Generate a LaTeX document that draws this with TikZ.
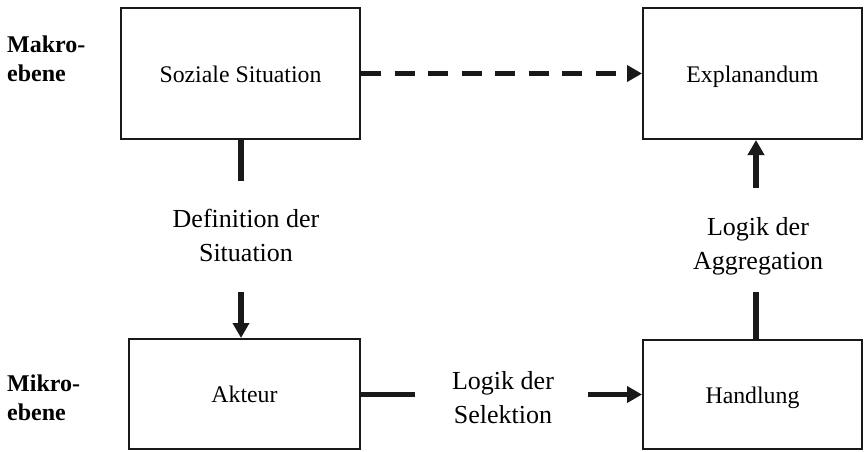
\documentclass[tikz,border=0pt]{standalone}
\usepackage{fontspec}
\setmainfont{Liberation Serif}
\usetikzlibrary{arrows.meta}
\begin{document}
\begin{tikzpicture}[x=1pt,y=-1pt,
  box/.style={draw=black!90,line width=2pt,rectangle,inner sep=0pt,
    text height=17pt,text depth=0pt,
    font=\fontsize{23.8}{30}\selectfont},
  lbl/.style={align=center,inner sep=0pt,anchor=north,
    font=\fontsize{26}{34}\selectfont},
  lvl/.style={align=left,inner sep=0pt,anchor=north west,
    font=\fontsize{24}{29}\selectfont\bfseries},
  conn/.style={line width=5.5pt,draw=black!90},
  tip/.style={-{Triangle[length=15pt,width=16pt]}},
  dsh/.style={conn,dash pattern=on 20pt off 13.5pt}]
\useasboundingbox (0,0) rectangle (864,451);
% boxes
\node[box,minimum width=239pt,minimum height=131pt] (soz) at (240.5,73.5) {Soziale Situation};
\node[box,minimum width=219pt,minimum height=131pt] (expl) at (752.5,73.5) {Explanandum};
\node[box,minimum width=231pt,minimum height=110pt] (akt) at (244.5,394) {Akteur};
\node[box,minimum width=219pt,minimum height=109pt] (hand) at (752.5,394.5) {Handlung};
% level labels
\node[lvl] (makro) at (7,36) {Makro-\\ebene};
\node[lvl] (mikro) at (7,374.5) {Mikro-\\ebene};
% connector labels
\node[lbl] (def) at (246,209) {Definition der\\Situation};
\node[lbl] (agg) at (758,217) {Logik der\\Aggregation};
\node[lbl] (sel) at (503,371) {Logik der\\Selektion};
% connector end points
\coordinate (d1) at (241,181);
\coordinate (d2) at (241,292);
\coordinate (a1) at (756,292);
\coordinate (a2) at (756,188);
\coordinate (s1) at (415,394.5);
\coordinate (s2) at (588,394.5);
% connectors
\draw[dsh,tip] (soz.east) -- (expl.west);
\draw[conn] (soz.south -| d1) -- (d1);
\draw[conn,tip] (d2) -- (d2 |- akt.north);
\draw[conn] (hand.north -| a1) -- (a1);
\draw[conn,tip] (a2) -- (a2 |- expl.south);
\draw[conn] (akt.east |- s1) -- (s1);
\draw[conn,tip] (s2) -- (s2 -| hand.west);
\end{tikzpicture}
\end{document}
